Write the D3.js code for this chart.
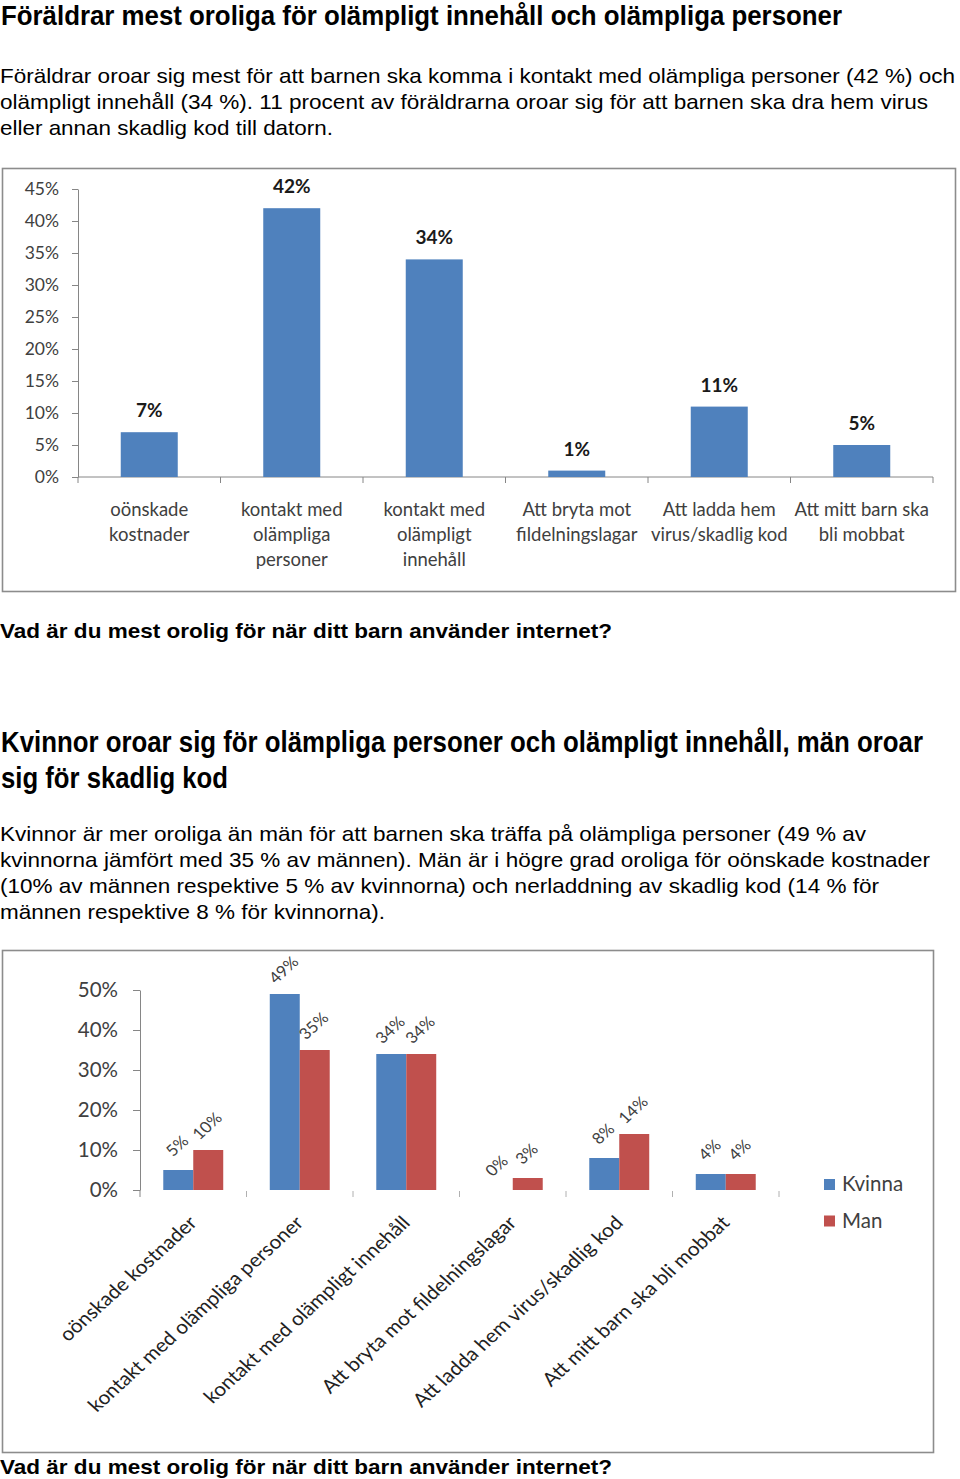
<!DOCTYPE html>
<html><head><meta charset="utf-8">
<script src="https://cdn.jsdelivr.net/npm/d3@7"></script>
<style>body{margin:0;background:#fff} svg{display:block}</style>
</head><body>
<svg id="page" width="960" height="1479"></svg>
<script>
// ---------- data ----------
const heading1 = "Föräldrar mest oroliga för olämpligt innehåll och olämpliga personer";
const body1 = [
  "Föräldrar oroar sig mest för att barnen ska komma i kontakt med olämpliga personer (42 %) och",
  "olämpligt innehåll (34 %). 11 procent av föräldrarna oroar sig för att barnen ska dra hem virus",
  "eller annan skadlig kod till datorn."
];
const caption = "Vad är du mest orolig för när ditt barn använder internet?";
const heading2 = [
  "Kvinnor oroar sig för olämpliga personer och olämpligt innehåll, män oroar",
  "sig för skadlig kod"
];
const body2 = [
  "Kvinnor är mer oroliga än män för att barnen ska träffa på olämpliga personer (49 % av",
  "kvinnorna jämfört med 35 % av männen). Män är i högre grad oroliga för oönskade kostnader",
  "(10% av männen respektive 5 % av kvinnorna) och nerladdning av skadlig kod (14 % för",
  "männen respektive 8 % för kvinnorna)."
];

const categories1 = [
  ["oönskade", "kostnader"],
  ["kontakt med", "olämpliga", "personer"],
  ["kontakt med", "olämpligt", "innehåll"],
  ["Att bryta mot", "fildelningslagar"],
  ["Att ladda hem", "virus/skadlig kod"],
  ["Att mitt barn ska", "bli mobbat"]
];
const values1 = [7, 42, 34, 1, 11, 5];
const ticks1 = [0, 5, 10, 15, 20, 25, 30, 35, 40, 45];

const categories2 = [
  "oönskade kostnader",
  "kontakt med olämpliga personer",
  "kontakt med olämpligt innehåll",
  "Att bryta mot fildelningslagar",
  "Att ladda hem virus/skadlig kod",
  "Att mitt barn ska bli mobbat"
];
const seriesNames = ["Kvinna", "Man"];
const kvinna = [5, 49, 34, 0, 8, 4];
const man = [10, 35, 34, 3, 14, 4];
const ticks2 = [0, 10, 20, 30, 40, 50];

// ---------- drawing ----------
const svg = d3.select("#page");
const textFont = "'Liberation Sans', Arial, Helvetica, sans-serif";
const narrowFont = "'Liberation Sans Narrow', 'Arial Narrow', 'Liberation Sans', Arial, sans-serif";
const chartFont = "Lato, Carlito, Calibri, 'Open Sans', sans-serif";
const blue = "#4F81BD", red = "#C0504D", axisGrey = "#868686", labelGrey = "#404040";

// reference page is stretched horizontally a little
const stretch = 1.1;
function para(lines, x, y0, dy, size, weight, family, widths, vscale) {
  const k = vscale || 1;
  lines.forEach((t, i) => {
    svg.append("g").attr("transform", `translate(${x},${y0 + i * dy}) scale(1,${k})`)
      .append("text").attr("x", 0).attr("y", 0)
      .attr("font-family", family).attr("font-size", size / k).attr("font-weight", weight)
      .attr("fill", "#000").text(t)
      .attr("textLength", widths[i]).attr("lengthAdjust", "spacingAndGlyphs");
  });
}

para([heading1], 1, 25, 0, 27.5, "bold", narrowFont, [841], 1.2);
para(body1, 0, 83, 26, 20.6, "normal", textFont, [955, 928, 333]);
para([caption], 0, 638, 0, 20.6, "bold", textFont, [612]);
para(heading2, 1, 752, 36, 30, "bold", narrowFont, [922, 227], 1.25);
para(body2, 0, 841, 26, 20.6, "normal", textFont, [866, 930, 879, 385]);
para([caption], 0, 1474, 0, 20.6, "bold", textFont, [612]);

// ---------- chart 1 ----------
svg.append("rect").attr("x", 2.5).attr("y", 168.5).attr("width", 953).attr("height", 423)
  .attr("fill", "#fff").attr("stroke", "#8c8c8c").attr("stroke-width", 1.6);

const idx1 = d3.range(values1.length);
const x1 = d3.scaleBand().domain(idx1).range([78, 933]).paddingInner(0.6).paddingOuter(0.3);
const y1 = d3.scaleLinear().domain([0, 45]).range([477, 189]);
const g1 = svg.append("g");

const ax1 = g1.append("g").attr("transform", "translate(78,0)")
  .call(d3.axisLeft(y1).tickValues(ticks1).tickSize(6).tickSizeOuter(0).tickPadding(13).tickFormat(d => d + "%"));
ax1.select(".domain").attr("stroke", axisGrey);
ax1.selectAll(".tick line").attr("stroke", axisGrey);
ax1.selectAll(".tick text").attr("font-family", chartFont).attr("font-size", 17.5).attr("fill", labelGrey);

// x axis baseline + boundary ticks
g1.append("line").attr("x1", 78).attr("x2", 933).attr("y1", y1(0)).attr("y2", y1(0)).attr("stroke", axisGrey);
const step1 = x1.step();
g1.selectAll(".xt").data(d3.range(values1.length + 1)).join("line")
  .attr("x1", i => x1.range()[0] + i * step1).attr("x2", i => x1.range()[0] + i * step1)
  .attr("y1", y1(0)).attr("y2", y1(0) + 6).attr("stroke", axisGrey);

g1.selectAll(".bar").data(idx1).join("rect")
  .attr("x", i => x1(i)).attr("width", x1.bandwidth())
  .attr("y", i => y1(values1[i])).attr("height", i => y1(0) - y1(values1[i]))
  .attr("fill", blue);

g1.selectAll(".vl").data(idx1).join("text")
  .attr("x", i => x1(i) + x1.bandwidth() / 2).attr("y", i => y1(values1[i]) - 15)
  .attr("text-anchor", "middle").attr("font-family", chartFont).attr("font-weight", "bold")
  .attr("font-size", 19).attr("fill", "#1a1a1a").text(i => values1[i] + "%");

idx1.forEach(i => {
  categories1[i].forEach((line, j) => {
    g1.append("text").attr("x", x1(i) + x1.bandwidth() / 2).attr("y", 516 + j * 25)
      .attr("text-anchor", "middle").attr("font-family", chartFont).attr("font-size", 18.5)
      .attr("fill", labelGrey).text(line);
  });
});

// ---------- chart 2 ----------
svg.append("rect").attr("x", 2.5).attr("y", 950.5).attr("width", 931).attr("height", 502)
  .attr("fill", "#fff").attr("stroke", "#8c8c8c").attr("stroke-width", 1.6);

const idx2 = d3.range(categories2.length);
const x2 = d3.scaleBand().domain(idx2).range([140, 779]).paddingInner(0.437).paddingOuter(0.2185);
const xs = d3.scaleBand().domain(seriesNames).range([0, x2.bandwidth()]);
const y2 = d3.scaleLinear().domain([0, 50]).range([1190, 990]);
const color = d3.scaleOrdinal().domain(seriesNames).range([blue, red]);
const g2 = svg.append("g");

const ax2 = g2.append("g").attr("transform", "translate(140,0)")
  .call(d3.axisLeft(y2).tickValues(ticks2).tickSize(7).tickSizeOuter(0).tickPadding(15).tickFormat(d => d + "%"));
ax2.select(".domain").attr("stroke", axisGrey);
ax2.selectAll(".tick line").attr("stroke", axisGrey);
ax2.selectAll(".tick text").attr("font-family", chartFont).attr("font-size", 20.5).attr("fill", labelGrey);
g2.append("line").attr("x1", 140).attr("x2", 140).attr("y1", y2(0)).attr("y2", y2(0) + 7).attr("stroke", axisGrey);

const step2 = x2.step();
g2.selectAll(".xt").data(d3.range(1, categories2.length + 1)).join("line")
  .attr("x1", i => x2.range()[0] + i * step2).attr("x2", i => x2.range()[0] + i * step2)
  .attr("y1", y2(0) + 1).attr("y2", y2(0) + 7).attr("stroke", "#b0b0b0");

const series = [kvinna, man];
const flat = [];
idx2.forEach(i => seriesNames.forEach((s, k) => flat.push({ i, s, v: series[k][i] })));

g2.selectAll(".bar").data(flat).join("rect")
  .attr("x", d => x2(d.i) + xs(d.s)).attr("width", xs.bandwidth())
  .attr("y", d => y2(d.v)).attr("height", d => y2(0) - y2(d.v))
  .attr("fill", d => color(d.s));

g2.selectAll(".vl").data(flat).join("text")
  .attr("transform", d => `translate(${x2(d.i) + xs(d.s) + xs.bandwidth() / 2},${y2(d.v) - 23}) scale(${stretch},1) rotate(-45)`)
  .attr("text-anchor", "middle").attr("dominant-baseline", "middle")
  .attr("font-family", chartFont).attr("font-size", 15.5).attr("fill", labelGrey)
  .text(d => d.v + "%");

g2.selectAll(".cl").data(idx2).join("text")
  .attr("transform", i => `translate(${x2(i) + x2.bandwidth() / 2 + 5},1224) scale(${stretch},1) rotate(-45)`)
  .attr("text-anchor", "end").attr("font-family", chartFont).attr("font-size", 19)
  .attr("fill", "#222").text(i => categories2[i]);

// legend
const lg = g2.append("g").attr("transform", "translate(824,1179)");
seriesNames.forEach((s, k) => {
  lg.append("rect").attr("x", 0).attr("y", k * 36.5).attr("width", 11).attr("height", 11).attr("fill", color(s));
  lg.append("text").attr("x", 18).attr("y", k * 36.5 + 12).attr("font-family", chartFont)
    .attr("font-size", 20.5).attr("fill", labelGrey).text(s);
});
</script>
</body></html>
